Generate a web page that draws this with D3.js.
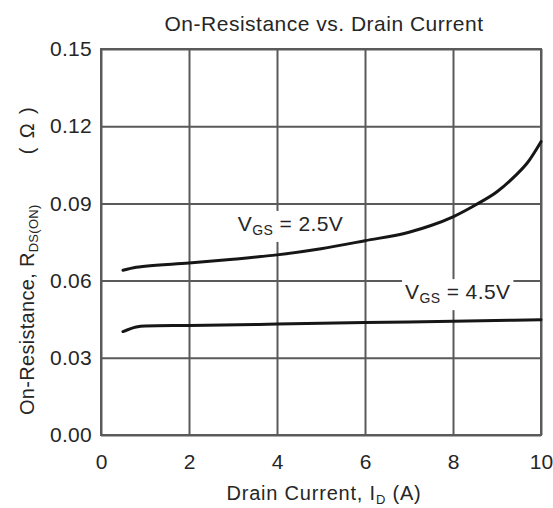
<!DOCTYPE html>
<html>
<head>
<meta charset="utf-8">
<script src="https://cdn.jsdelivr.net/npm/d3@7/dist/d3.min.js"></script>
<style>
  html, body { margin: 0; padding: 0; background: #fff; }
  svg text { font-family: "Liberation Sans", Arial, Helvetica, sans-serif; fill: #262626; }
</style>
</head>
<body>
<svg id="chart" width="553" height="508"></svg>
<script>
// Drain current (A) and on-resistance (ohm) for each gate voltage
const id25 = [0.5, 0.8, 1, 2, 3, 4, 5, 6, 7, 7.5, 8, 8.5, 9, 9.4, 9.7, 10];
const rds25 = [0.0640, 0.0652, 0.0656, 0.0668, 0.0683, 0.0700, 0.0724, 0.0755, 0.0788, 0.0814, 0.0848, 0.0893, 0.0945, 0.1005, 0.1060, 0.1140];
const id45 = [0.5, 0.8, 1, 2, 4, 6, 8, 10];
const rds45 = [0.0402, 0.0420, 0.0424, 0.0426, 0.0431, 0.0437, 0.0442, 0.0448];

const xTicks = [0, 2, 4, 6, 8, 10];
const yTicks = [0.00, 0.03, 0.06, 0.09, 0.12, 0.15];
const yTickLabels = ["0.00", "0.03", "0.06", "0.09", "0.12", "0.15"];

const svg = d3.select("#chart");
const plotLeft = 101, plotRight = 541, plotTop = 49, plotBottom = 435;

const x = d3.scaleLinear().domain([0, 10]).range([plotLeft, plotRight]);
const y = d3.scaleLinear().domain([0, 0.15]).range([plotBottom, plotTop]);

const gridColor = "#5a5a5a";

// Vertical grid + x tick labels
const gx = svg.append("g")
  .attr("transform", `translate(0,${plotBottom})`)
  .call(d3.axisBottom(x).tickValues(xTicks).tickFormat(d3.format("d"))
    .tickSizeInner(-(plotBottom - plotTop)).tickSizeOuter(0).tickPadding(19));
gx.select(".domain").remove();
gx.selectAll("line").attr("stroke", gridColor).attr("stroke-width", 2);
gx.selectAll("text").style("font-size", "21px").attr("fill", "#262626");

// Horizontal grid + y tick labels
const gy = svg.append("g")
  .attr("transform", `translate(${plotLeft},0)`)
  .call(d3.axisLeft(y).tickValues(yTicks).tickFormat((d, i) => yTickLabels[i])
    .tickSizeInner(-(plotRight - plotLeft)).tickSizeOuter(0).tickPadding(9));
gy.select(".domain").remove();
gy.selectAll("line").attr("stroke", gridColor).attr("stroke-width", 2);
gy.selectAll("text").style("font-size", "21px").style("letter-spacing", "0.3px").attr("fill", "#262626");

// Plot frame
svg.append("rect")
  .attr("x", x(0)).attr("y", y(0.15))
  .attr("width", x(10) - x(0)).attr("height", y(0) - y(0.15))
  .attr("fill", "none").attr("stroke", gridColor).attr("stroke-width", 2);

// Curve labels with a white backing so grid lines stop behind them
function curveLabel(xv, yv, value) {
  const g = svg.append("g");
  const t = g.append("text")
    .attr("x", x(xv)).attr("y", y(yv))
    .style("font-size", "21px").style("letter-spacing", "0.4px");
  t.append("tspan").text("V");
  t.append("tspan").attr("dy", 4).style("font-size", "14px").text("GS");
  t.append("tspan").attr("dy", -4).text(" = " + value);
  const b = t.node().getBBox();
  g.insert("rect", "text")
    .attr("x", b.x - 3).attr("y", b.y - 1)
    .attr("width", b.width + 6).attr("height", b.height + 5)
    .attr("fill", "#fff");
}
curveLabel(3.11, 0.0793, "2.5V");
curveLabel(6.91, 0.0528, "4.5V");

// Curves
const line = d3.line()
  .x(d => x(d[0])).y(d => y(d[1]))
  .curve(d3.curveMonotoneX);

[[id25, rds25], [id45, rds45]].forEach(([xs, ys]) => {
  svg.append("path")
    .datum(xs.map((v, i) => [v, ys[i]]))
    .attr("d", line)
    .attr("fill", "none")
    .attr("stroke", "#161616")
    .attr("stroke-width", 3)
    .attr("stroke-linecap", "round");
});

// Title
svg.append("text")
  .attr("x", 324).attr("y", 31)
  .attr("text-anchor", "middle")
  .style("font-size", "21px").style("letter-spacing", "0.5px")
  .text("On-Resistance vs. Drain Current");

// X axis title
const xt = svg.append("text")
  .attr("x", 324).attr("y", 500)
  .attr("text-anchor", "middle")
  .style("font-size", "20px").style("letter-spacing", "0.8px");
xt.append("tspan").text("Drain Current, I");
xt.append("tspan").attr("dy", 4).style("font-size", "13px").text("D");
xt.append("tspan").attr("dy", -4).text(" (A)");

// Y axis title
const yt = svg.append("text")
  .attr("transform", "translate(34,415) rotate(-90)")
  .style("font-size", "20px").style("letter-spacing", "0.3px");
yt.append("tspan").text("On-Resistance, R");
yt.append("tspan").attr("dy", 4).style("font-size", "13px").text("DS(ON)");
yt.append("tspan").attr("dy", -4).attr("dx", 50).text("(");
yt.append("tspan").attr("dx", 9).text("Ω");
yt.append("tspan").attr("dx", 9).text(")");
</script>
</body>
</html>
